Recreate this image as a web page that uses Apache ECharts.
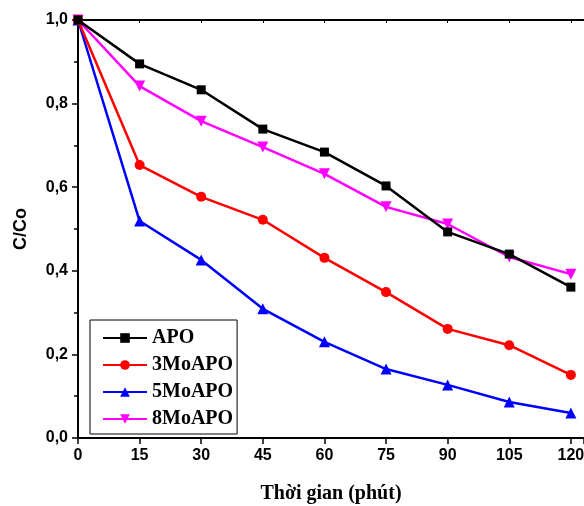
<!DOCTYPE html>
<html><head><meta charset="utf-8">
<script src="https://cdn.jsdelivr.net/npm/echarts@6/dist/echarts.min.js"></script>
<style>html,body{margin:0;padding:0;background:#fff}#c{width:584px;height:506px}</style>
</head><body><div id="c"></div>
<script>
const times = [0, 15, 30, 45, 60, 75, 90, 105, 120];
const apo   = [1.0, 0.895, 0.833, 0.739, 0.684, 0.603, 0.493, 0.440, 0.361];
const mo3   = [1.0, 0.653, 0.577, 0.522, 0.431, 0.349, 0.261, 0.222, 0.151];
const mo5   = [1.0, 0.519, 0.426, 0.309, 0.230, 0.165, 0.127, 0.086, 0.060];
const mo8   = [1.0, 0.842, 0.758, 0.696, 0.632, 0.553, 0.512, 0.433, 0.392];
const seriesNames = ['APO', '3MoAPO', '5MoAPO', '8MoAPO'];
const seriesColors = ['#000000', '#ff0000', '#0000ff', '#ff00ff'];
const seriesSymbols = ['rect', 'circle', 'triangle', 'path://M0,0 L10,0 L5,9 Z'];
const seriesSizes = [9, 10, 11, 11];
const allData = [apo, mo3, mo5, mo8];
const xName = 'Thời gian (phút)';
const yName = 'C/Co';

const chart = echarts.init(document.getElementById('c'), null, {renderer: 'canvas'});
const axisFont = {fontFamily: 'Liberation Sans, Arial', fontWeight: 'bold', fontSize: 16, color: '#000'};
chart.setOption({
  animation: false,
  backgroundColor: '#fff',
  grid: {left: 78, top: 20, right: 0, bottom: 68, containLabel: false, outerBoundsMode: 'none'},
  xAxis: [{
    type: 'value', min: 0, max: 123.2, interval: 15,
    name: xName, nameLocation: 'middle', nameGap: 46,
    nameTextStyle: {fontFamily: 'Liberation Serif, Times New Roman', fontWeight: 'bold', fontSize: 20, color: '#000'},
    axisLine: {lineStyle: {color: '#000', width: 2}},
    axisTick: {inside: false, length: 6, lineStyle: {color: '#000', width: 1.5}},
    axisLabel: Object.assign({margin: 10, formatter: v => (v % 15 === 0 ? String(v) : '')}, axisFont),
    splitLine: {show: false}
  }, {
    type: 'value', position: 'top', min: 0, max: 123.2, interval: 15,
    axisLine: {show: true, lineStyle: {color: '#000', width: 2}},
    axisTick: {show: true, inside: true, length: 3, lineStyle: {color: '#000', width: 1}},
    axisLabel: {show: false}, splitLine: {show: false}
  }],
  yAxis: {
    type: 'value', min: 0, max: 1.0, interval: 0.2,
    name: yName, nameLocation: 'middle', nameGap: 48,
    nameTextStyle: {fontFamily: 'Liberation Sans, Arial', fontWeight: 'bold', fontSize: 18, color: '#000'},
    axisLine: {show: true, lineStyle: {color: '#000', width: 2}},
    axisTick: {inside: false, length: 6, lineStyle: {color: '#000', width: 1.5}},
    minorTick: {show: true, splitNumber: 2, length: 4, lineStyle: {color: '#000', width: 1.5}},
    axisLabel: Object.assign({margin: 10, formatter: v => v.toFixed(1).replace('.', ',')}, axisFont),
    splitLine: {show: false}
  },
  legend: {
    left: 90, top: 320, orient: 'vertical',
    data: seriesNames,
    itemWidth: 44, itemHeight: 12, itemGap: 7,
    padding: [8, 4, 5, 12],
    borderColor: '#000', borderWidth: 1, borderRadius: 0,
    textStyle: {fontFamily: 'Liberation Serif, Times New Roman', fontWeight: 'bold', fontSize: 20, color: '#000', lineHeight: 20}
  },
  series: allData.map((d, i) => ({
    name: seriesNames[i], type: 'line',
    data: times.map((t, j) => [t, d[j]]),
    symbol: seriesSymbols[i], symbolSize: seriesSizes[i], showAllSymbol: true,
    lineStyle: {color: seriesColors[i], width: 2.5},
    itemStyle: {color: seriesColors[i], borderWidth: 0},
    z: 10 - i
  }))
});
</script></body></html>
